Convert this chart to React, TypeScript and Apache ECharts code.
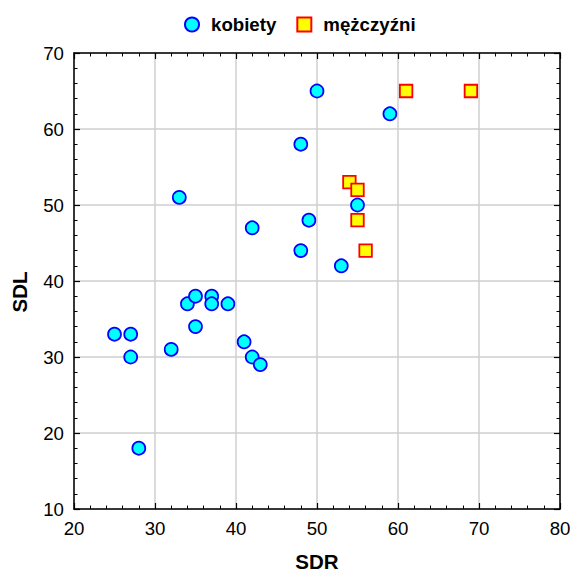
import React, { useEffect, useRef } from "react";
import * as echarts from "echarts";

const kobietySDR = [50, 59, 25, 27, 27, 28, 32, 34, 35, 37, 37, 39, 35, 41, 42, 43, 33, 48, 42, 49, 48, 53, 55];
const kobietySDL = [65, 62, 33, 33, 30, 18, 31, 37, 38, 38, 37, 37, 34, 32, 30, 29, 51, 58, 47, 48, 44, 42, 50];
const mezczyzniSDR = [61, 69, 54, 55, 55, 56];
const mezczyzniSDL = [65, 65, 53, 52, 48, 44];
const xTicks = { min: 20, max: 80, interval: 10 };
const yTicks = { min: 10, max: 70, interval: 10 };

const FONT = "Arial, 'Liberation Sans', sans-serif";
const FS = 18.67;
const FS_NAME = 20.5;

export default function App() {
  const ref = useRef<HTMLDivElement>(null);
  useEffect(() => {
    if (!ref.current) return;
    const chart = echarts.init(ref.current, null, { renderer: "svg" });
    const axisLine = { show: true, lineStyle: { color: "#000", width: 1.5 } };
    const tick = { show: true, inside: true, length: 6, lineStyle: { color: "#000", width: 1.2 } };
    const minor = { show: true, splitNumber: 5, length: 3.5, lineStyle: { color: "#000", width: 1 } };
    const split = { show: true, lineStyle: { color: "#cfcfcf", width: 1.5 } };
    const label = { show: true, color: "#000", fontSize: FS, fontFamily: FONT };
    const nameStyle = { color: "#000", fontSize: FS_NAME, fontWeight: "bold" as const, fontFamily: FONT };
    chart.setOption({
      animation: false,
      backgroundColor: "#fff",
      grid: {
        left: 74,
        right: 12,
        top: 53,
        bottom: 63,
        containLabel: false,
        outerBoundsMode: "none",
      },
      legend: {
        top: 10,
        left: 179,
        itemWidth: 28,
        itemHeight: 14,
        itemGap: 20,
        symbolKeepAspect: true,
        textStyle: { color: "#000", fontSize: FS, fontWeight: "bold", fontFamily: FONT },
        data: [
          { name: "kobiety", icon: "circle" },
          { name: "mężczyźni", icon: "path://M0,0L14,0L14,14L0,14Z" },
        ],
      },
      xAxis: [
        {
          type: "value",
          ...xTicks,
          position: "bottom",
          name: "SDR",
          nameLocation: "middle",
          nameGap: 42,
          nameTextStyle: nameStyle,
          axisLine,
          axisTick: tick,
          minorTick: minor,
          splitLine: split,
          axisLabel: { ...label, margin: 10 },
        },
        {
          type: "value",
          ...xTicks,
          position: "top",
          axisLine,
          axisTick: tick,
          minorTick: minor,
          splitLine: { show: false },
          axisLabel: { show: false },
        },
      ],
      yAxis: [
        {
          type: "value",
          ...yTicks,
          position: "left",
          name: "SDL",
          nameLocation: "middle",
          nameGap: 44,
          nameTextStyle: { ...nameStyle, padding: [0, 22, 0, 0] },
          axisLine,
          axisTick: tick,
          minorTick: minor,
          splitLine: split,
          axisLabel: { ...label, margin: 10 },
        },
        {
          type: "value",
          ...yTicks,
          position: "right",
          axisLine,
          axisTick: tick,
          minorTick: minor,
          splitLine: { show: false },
          axisLabel: { show: false },
        },
      ],
      series: [
        {
          name: "kobiety",
          type: "scatter",
          symbol: "circle",
          symbolSize: 13,
          z: 3,
          itemStyle: { color: "#00ffff", borderColor: "#0000ff", borderWidth: 1.7, opacity: 1 },
          data: kobietySDR.map((x, i) => [x, kobietySDL[i]]),
        },
        {
          name: "mężczyźni",
          type: "scatter",
          symbol: "rect",
          symbolSize: 12.5,
          z: 2,
          itemStyle: { color: "#ffff00", borderColor: "#ff0000", borderWidth: 1.8, opacity: 1 },
          data: mezczyzniSDR.map((x, i) => [x, mezczyzniSDL[i]]),
        },
      ],
    });
    return () => chart.dispose();
  }, []);
  return (
    <div
      ref={ref}
      style={{ position: "fixed", left: 0, top: 0, width: 572, height: 572, background: "#fff" }}
    />
  );
}
